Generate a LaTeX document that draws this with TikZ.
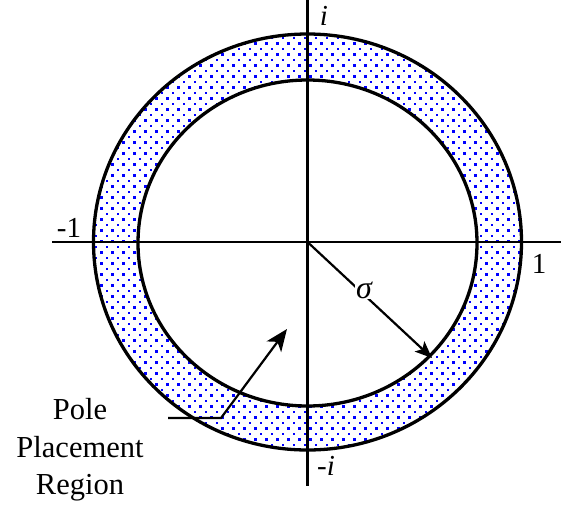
\documentclass[tikz,border=0pt]{standalone}
\usepackage{fontspec}
\setmainfont{Liberation Serif}
\usetikzlibrary{arrows.meta}
\begin{document}
\begin{tikzpicture}[x=1pt,y=-1pt,
  ring/.style={line width=3.3pt},
  axis/.style={line width=2.3pt},
  ptr/.style={line width=2.2pt},
  lbl/.style={font=\fontsize{29}{33}\selectfont, inner sep=0pt},
  dotfill/.style={fill=blue}]
\useasboundingbox (0,0) rectangle (567,504);
\coordinate (O) at (307.5,242);
% dotted ring
\begin{scope}
  \clip (307.5,242) ellipse [x radius=214, y radius=208];
  \foreach \j in {0,...,78} {
    \pgfmathsetmacro{\off}{5.5*mod(\j,2)}
    \foreach \i in {0,...,40} {
      \fill[dotfill] ({89+11*\i+\off},{31+5.5*\j}) rectangle +(2.6,2.6);
    }
  }
\end{scope}
\fill[white] (307.5,243) ellipse [x radius=169.5, y radius=163];
% circles
\draw[ring] (307.5,242) ellipse [x radius=214, y radius=208];
\draw[ring] (307.5,243) ellipse [x radius=169.5, y radius=163];
% axes
\coordinate (xl) at (52,242);
\coordinate (xr) at (561,242);
\coordinate (yt) at (307.5,0);
\coordinate (yb) at (307.5,486);
\draw[axis] (xl) -- (xr);
\draw[axis] (yt) -- (yb);
% labels
\node[lbl] (im) at (324,16) {\itshape i};
\node[lbl] (mim) at (326,466) {-\itshape i};
\node[lbl] (m1) at (69,228) {-1};
\node[lbl] (p1) at (539,264) {1};
% radius arrow
\coordinate (s) at (432,358);
\draw[ptr,-{Stealth[length=17pt,width=14pt,inset=4pt]}] (O) -- (s);
\node[lbl, fill=white, inner sep=1pt, font=\fontsize{32}{34}\selectfont] (sig) at (364,290) {\itshape σ};
% pole placement pointer
\coordinate (q0) at (168,418);
\coordinate (q1) at (221,418);
\coordinate (q2) at (287,329);
\draw[ptr,-{Stealth[length=22pt,width=18pt,inset=6pt]}] (q0) -- (q1) -- (q2);
\node[font=\fontsize{30.5}{37.5}\selectfont, align=center, inner sep=0pt] (ppr) at (80,450) {Pole\\Placement\\Region};
\end{tikzpicture}
\end{document}
